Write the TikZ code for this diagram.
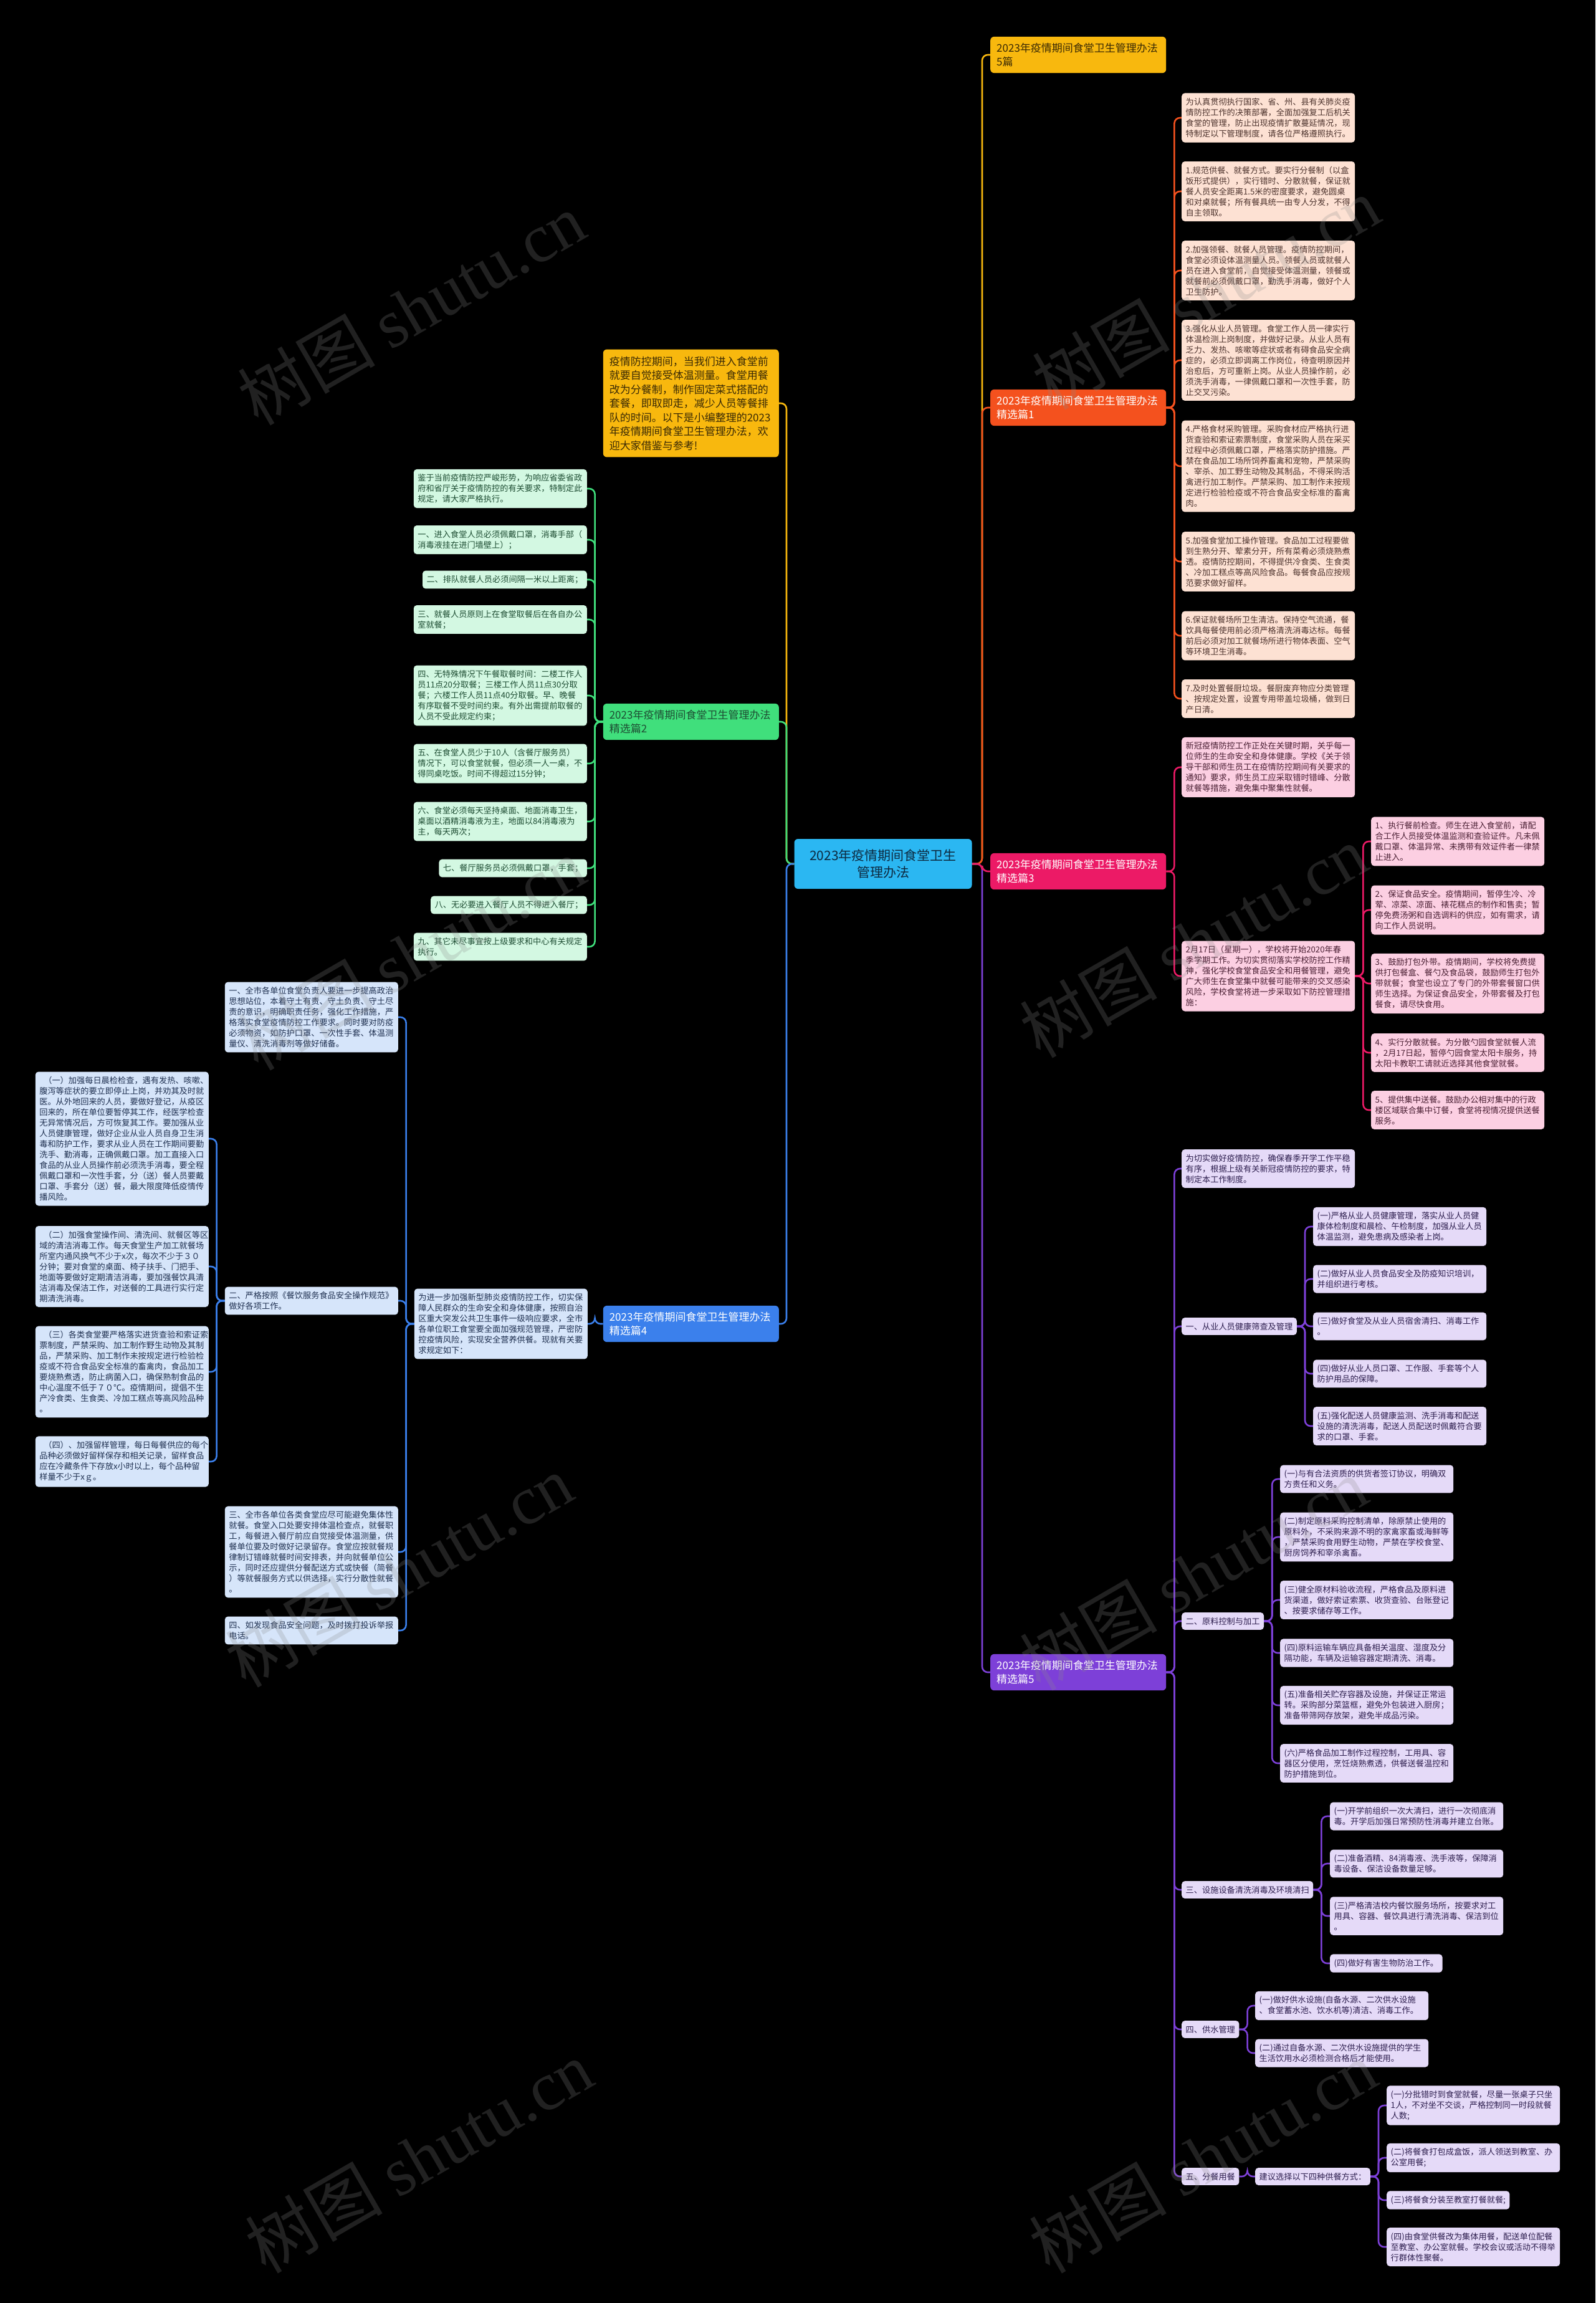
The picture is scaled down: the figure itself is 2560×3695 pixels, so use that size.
\documentclass[tikz,border=0pt]{standalone}
\usepackage{fontspec}
\setmainfont{Noto Sans CJK SC}
\newfontfamily\wmlatin{Liberation Serif}
\usetikzlibrary{calc}
\pgfdeclarelayer{bg}
\pgfsetlayers{bg,main}
\definecolor{cB1}{HTML}{F8B80E}
\definecolor{tB1}{HTML}{3A2A05}
\definecolor{cP1}{HTML}{F4511E}
\definecolor{lP1}{HTML}{FDE1D3}
\definecolor{tP1}{HTML}{4E342E}
\definecolor{cP3}{HTML}{EC1A66}
\definecolor{lP3}{HTML}{FCCFE2}
\definecolor{tP3}{HTML}{4A1F33}
\definecolor{cP5}{HTML}{7D40D8}
\definecolor{lP5}{HTML}{E5DAF8}
\definecolor{tP5}{HTML}{2E1F4F}
\definecolor{cP2}{HTML}{40DF7C}
\definecolor{lP2}{HTML}{D3F8E2}
\definecolor{tP2}{HTML}{1E4D33}
\definecolor{cP4}{HTML}{3B80EC}
\definecolor{lP4}{HTML}{D6E5FA}
\definecolor{tP4}{HTML}{1F3050}
\definecolor{cCtr}{HTML}{2BB7F2}
\definecolor{tCtr}{HTML}{0D2A40}
\definecolor{wmgray}{HTML}{8A8A8A}
\newcommand\lnkR[3]{\draw[myln,#1] (#2.east) -- ++(13,0) |- (#3.west);}
\newcommand\lnkL[3]{\draw[myln,#1] (#2.west) -- ++(-13,0) |- (#3.east);}
\tikzset{
  mylf/.style={rounded corners=5pt, inner xsep=6.5pt, inner ysep=7.8pt, align=left, text width=265pt, font=\fontsize{13.2pt}{17pt}\selectfont},
  mysh/.style={rounded corners=5pt, inner xsep=6.5pt, inner ysep=7.8pt, font=\fontsize{13.2pt}{17pt}\selectfont},
  mybn/.style={rounded corners=6pt, inner xsep=10pt, inner ysep=10pt, align=left, text width=262pt, font=\fontsize{17pt}{22.5pt}\selectfont},
  myf1/.style={fill=lP1, text=tP1},
  myf3/.style={fill=lP3, text=tP3},
  myf5/.style={fill=lP5, text=tP5},
  myf2/.style={fill=lP2, text=tP2},
  myf4/.style={fill=lP4, text=tP4},
  myln/.style={line width=2.6pt, rounded corners=9pt},
  mywm/.style={text=wmgray, opacity=0.24, font=\fontsize{110pt}{110pt}\selectfont, rotate=30, inner sep=0pt},
}
\begin{document}
\begin{tikzpicture}[x=1pt,y=-1pt]
\useasboundingbox (0,0) rectangle (2560,3695);
% ---------------- center
\node[rounded corners=6pt, fill=cCtr, text=tCtr, align=center, minimum width=285pt, minimum height=80pt, font=\fontsize{21pt}{27pt}\selectfont] (ctr) at (1417,1386) {2023年疫情期间食堂卫生\\管理办法};
\coordinate (rtr) at (1576,1386);
\coordinate (ltr) at (1262,1386);
% ---------------- right branch nodes
\node[mybn, fill=cB1, text=tB1, anchor=west] (B1) at (1589,88) {2023年疫情期间食堂卫生管理办法\\5篇};
\node[mybn, fill=cP1, text=white, anchor=west] (P1) at (1589,654) {2023年疫情期间食堂卫生管理办法\\精选篇1};
\node[mybn, fill=cP3, text=white, anchor=west] (P3) at (1589,1398) {2023年疫情期间食堂卫生管理办法\\精选篇3};
\node[mybn, fill=cP5, text=white, anchor=west] (P5) at (1589,2683) {2023年疫情期间食堂卫生管理办法\\精选篇5};
% ---------------- left branch nodes
\node[mybn, fill=cB1, text=tB1, anchor=east, inner ysep=11pt] (intro) at (1250,647) {疫情防控期间，当我们进入食堂前\\就要自觉接受体温测量。食堂用餐\\改为分餐制，制作固定菜式搭配的\\套餐，即取即走，减少人员等餐排\\队的时间。以下是小编整理的2023\\年疫情期间食堂卫生管理办法，欢\\迎大家借鉴与参考!};
\node[mybn, fill=cP2, text=tP2, anchor=east] (P2) at (1250,1158) {2023年疫情期间食堂卫生管理办法\\精选篇2};
\node[mybn, fill=cP4, text=white, anchor=east] (P4) at (1250,2124) {2023年疫情期间食堂卫生管理办法\\精选篇4};
% ---------------- P1 leaves
\node[mylf,myf1,anchor=west] (a1) at (1896,189) {为认真贯彻执行国家、省、州、县有关肺炎疫\\情防控工作的决策部署，全面加强复工后机关\\食堂的管理，防止出现疫情扩散蔓延情况，现\\特制定以下管理制度，请各位严格遵照执行。};
\node[mylf,myf1,anchor=west] (a2) at (1896,307) {1.规范供餐、就餐方式。要实行分餐制（以盒\\饭形式提供），实行错时、分散就餐，保证就\\餐人员安全距离1.5米的密度要求，避免圆桌\\和对桌就餐；所有餐具统一由专人分发，不得\\自主领取。};
\node[mylf,myf1,anchor=west] (a3) at (1896,434) {2.加强领餐、就餐人员管理。疫情防控期间，\\食堂必须设体温测量人员。领餐人员或就餐人\\员在进入食堂前，自觉接受体温测量，领餐或\\就餐前必须佩戴口罩，勤洗手消毒，做好个人\\卫生防护。};
\node[mylf,myf1,anchor=west] (a4) at (1896,578) {3.强化从业人员管理。食堂工作人员一律实行\\体温检测上岗制度，并做好记录。从业人员有\\乏力、发热、咳嗽等症状或者有碍食品安全病\\症的，必须立即调离工作岗位，待查明原因并\\治愈后，方可重新上岗。从业人员操作前，必\\须洗手消毒，一律佩戴口罩和一次性手套，防\\止交叉污染。};
\node[mylf,myf1,anchor=west] (a5) at (1896,748) {4.严格食材采购管理。采购食材应严格执行进\\货查验和索证索票制度，食堂采购人员在采买\\过程中必须佩戴口罩，严格落实防护措施。严\\禁在食品加工场所饲养畜禽和宠物，严禁采购\\、宰杀、加工野生动物及其制品，不得采购活\\禽进行加工制作。严禁采购、加工制作未按规\\定进行检验检疫或不符合食品安全标准的畜禽\\肉。};
\node[mylf,myf1,anchor=west] (a6) at (1896,901) {5.加强食堂加工操作管理。食品加工过程要做\\到生熟分开、荤素分开，所有菜肴必须烧熟煮\\透。疫情防控期间，不得提供冷食类、生食类\\、冷加工糕点等高风险食品。每餐食品应按规\\范要求做好留样。};
\node[mylf,myf1,anchor=west] (a7) at (1896,1020) {6.保证就餐场所卫生清洁。保持空气流通，餐\\饮具每餐使用前必须严格清洗消毒达标。每餐\\前后必须对加工就餐场所进行物体表面、空气\\等环境卫生消毒。};
\node[mylf,myf1,anchor=west] (a8) at (1896,1121) {7.及时处置餐厨垃圾。餐厨废弃物应分类管理\\、按规定处置，设置专用带盖垃圾桶，做到日\\产日清。};
% ---------------- P3 leaves
\node[mylf,myf3,anchor=west] (c1) at (1896,1231) {新冠疫情防控工作正处在关键时期，关乎每一\\位师生的生命安全和身体健康。学校《关于领\\导干部和师生员工在疫情防控期间有关要求的\\通知》要求，师生员工应采取错时错峰、分散\\就餐等措施，避免集中聚集性就餐。};
\node[mylf,myf3,anchor=west] (c2) at (1896,1566) {2月17日（星期一），学校将开始2020年春\\季学期工作。为切实贯彻落实学校防控工作精\\神，强化学校食堂食品安全和用餐管理，避免\\广大师生在食堂集中就餐可能带来的交叉感染\\风险，学校食堂将进一步采取如下防控管理措\\施：};
\node[mylf,myf3,anchor=west] (c21) at (2200,1350) {1、执行餐前检查。师生在进入食堂前，请配\\合工作人员接受体温监测和查验证件。凡未佩\\戴口罩、体温异常、未携带有效证件者一律禁\\止进入。};
\node[mylf,myf3,anchor=west] (c22) at (2200,1460) {2、保证食品安全。疫情期间，暂停生冷、冷\\荤、凉菜、凉面、裱花糕点的制作和售卖；暂\\停免费汤粥和自选调料的供应，如有需求，请\\向工作人员说明。};
\node[mylf,myf3,anchor=west] (c23) at (2200,1578) {3、鼓励打包外带。疫情期间，学校将免费提\\供打包餐盒、餐勺及食品袋，鼓励师生打包外\\带就餐；食堂也设立了专门的外带套餐窗口供\\师生选择。为保证食品安全，外带套餐及打包\\餐食，请尽快食用。};
\node[mylf,myf3,anchor=west] (c24) at (2200,1689) {4、实行分散就餐。为分散勺园食堂就餐人流\\，2月17日起，暂停勺园食堂太阳卡服务，持\\太阳卡教职工请就近选择其他食堂就餐。};
\node[mylf,myf3,anchor=west] (c25) at (2200,1781) {5、提供集中送餐。鼓励办公相对集中的行政\\楼区域联合集中订餐，食堂将视情况提供送餐\\服务。};
% ---------------- P5 leaves
\node[mylf,myf5,anchor=west] (e0) at (1896,1875) {为切实做好疫情防控，确保春季开学工作平稳\\有序，根据上级有关新冠疫情防控的要求，特\\制定本工作制度。};
\node[mysh,myf5,anchor=west] (e1) at (1896,2128) {一、从业人员健康筛查及管理};
\node[mylf,myf5,anchor=west] (e11) at (2107,1968) {(一)严格从业人员健康管理，落实从业人员健\\康体检制度和晨检、午检制度，加强从业人员\\体温监测，避免患病及感染者上岗。};
\node[mylf,myf5,anchor=west] (e12) at (2107,2052) {(二)做好从业人员食品安全及防疫知识培训，\\并组织进行考核。};
\node[mylf,myf5,anchor=west] (e13) at (2107,2128) {(三)做好食堂及从业人员宿舍清扫、消毒工作\\。};
\node[mylf,myf5,anchor=west] (e14) at (2107,2204) {(四)做好从业人员口罩、工作服、手套等个人\\防护用品的保障。};
\node[mylf,myf5,anchor=west] (e15) at (2107,2288) {(五)强化配送人员健康监测、洗手消毒和配送\\设施的清洗消毒，配送人员配送时佩戴符合要\\求的口罩、手套。};
\node[mysh,myf5,anchor=west] (e2) at (1896,2601) {二、原料控制与加工};
\node[mylf,myf5,anchor=west] (e21) at (2054,2373) {(一)与有合法资质的供货者签订协议，明确双\\方责任和义务。};
\node[mylf,myf5,anchor=west] (e22) at (2054,2466) {(二)制定原料采购控制清单，除原禁止使用的\\原料外，不采购来源不明的家禽家畜或海鲜等\\，严禁采购食用野生动物，严禁在学校食堂、\\厨房饲养和宰杀禽畜。};
\node[mylf,myf5,anchor=west] (e23) at (2054,2567) {(三)健全原材料验收流程，严格食品及原料进\\货渠道，做好索证索票、收货查验、台账登记\\、按要求储存等工作。};
\node[mylf,myf5,anchor=west] (e24) at (2054,2652) {(四)原料运输车辆应具备相关温度、湿度及分\\隔功能，车辆及运输容器定期清洗、消毒。};
\node[mylf,myf5,anchor=west] (e25) at (2054,2736) {(五)准备相关贮存容器及设施，并保证正常运\\转。采购部分菜篮框，避免外包装进入厨房；\\准备带筛网存放架，避免半成品污染。};
\node[mylf,myf5,anchor=west] (e26) at (2054,2829) {(六)严格食品加工制作过程控制，工用具、容\\器区分使用，烹饪烧熟煮透，供餐送餐温控和\\防护措施到位。};
\node[mysh,myf5,anchor=west] (e3) at (1896,3032) {三、设施设备清洗消毒及环境清扫};
\node[mylf,myf5,anchor=west] (e31) at (2134,2914) {(一)开学前组织一次大清扫，进行一次彻底消\\毒。开学后加强日常预防性消毒并建立台账。};
\node[mylf,myf5,anchor=west] (e32) at (2134,2990) {(二)准备酒精、84消毒液、洗手液等，保障消\\毒设备、保洁设备数量足够。};
\node[mylf,myf5,anchor=west] (e33) at (2134,3074) {(三)严格清洁校内餐饮服务场所，按要求对工\\用具、容器、餐饮具进行清洗消毒、保洁到位\\。};
\node[mysh,myf5,anchor=west] (e34) at (2134,3150) {(四)做好有害生物防治工作。};
\node[mysh,myf5,anchor=west] (e4) at (1896,3256) {四、供水管理};
\node[mylf,myf5,anchor=west] (e41) at (2014,3218) {(一)做好供水设施(自备水源、二次供水设施\\、食堂蓄水池、饮水机等)清洁、消毒工作。};
\node[mylf,myf5,anchor=west] (e42) at (2014,3294) {(二)通过自备水源、二次供水设施提供的学生\\生活饮用水必须检测合格后才能使用。};
\node[mysh,myf5,anchor=west] (e5) at (1896,3492) {五、分餐用餐};
\node[mysh,myf5,anchor=west] (e50) at (2014,3492) {建议选择以下四种供餐方式：};
\node[mylf,myf5,anchor=west] (e51) at (2225,3378) {(一)分批错时到食堂就餐，尽量一张桌子只坐\\1人，不对坐不交谈，严格控制同一时段就餐\\人数;};
\node[mylf,myf5,anchor=west] (e52) at (2225,3462) {(二)将餐食打包成盒饭，派人领送到教室、办\\公室用餐;};
\node[mysh,myf5,anchor=west] (e53) at (2225,3530) {(三)将餐食分装至教室打餐就餐;};
\node[mylf,myf5,anchor=west] (e54) at (2225,3605) {(四)由食堂供餐改为集体用餐，配送单位配餐\\至教室、办公室就餐。学校会议或活动不得举\\行群体性聚餐。};
% ---------------- P2 leaves
\node[mylf,myf2,anchor=east] (b1) at (942,784) {鉴于当前疫情防控严峻形势，为响应省委省政\\府和省厅关于疫情防控的有关要求，特制定此\\规定，请大家严格执行。};
\node[mylf,myf2,anchor=east] (b2) at (942,866) {一、进入食堂人员必须佩戴口罩，消毒手部（\\消毒液挂在进门墙壁上）；};
\node[mysh,myf2,anchor=east] (b3) at (942,930) {二、排队就餐人员必须间隔一米以上距离；};
\node[mylf,myf2,anchor=east] (b4) at (942,994) {三、就餐人员原则上在食堂取餐后在各自办公\\室就餐；};
\node[mylf,myf2,anchor=east] (b5) at (942,1116) {四、无特殊情况下午餐取餐时间：二楼工作人\\员11点20分取餐；三楼工作人员11点30分取\\餐；六楼工作人员11点40分取餐。早、晚餐\\有序取餐不受时间约束。有外出需提前取餐的\\人员不受此规定约束；};
\node[mylf,myf2,anchor=east] (b6) at (942,1225) {五、在食堂人员少于10人（含餐厅服务员）\\情况下，可以食堂就餐，但必须一人一桌，不\\得同桌吃饭。时间不得超过15分钟；};
\node[mylf,myf2,anchor=east] (b7) at (942,1318) {六、食堂必须每天坚持桌面、地面消毒卫生，\\桌面以酒精消毒液为主，地面以84消毒液为\\主，每天两次；};
\node[mysh,myf2,anchor=east] (b8) at (942,1393) {七、餐厅服务员必须佩戴口罩，手套；};
\node[mysh,myf2,anchor=east] (b9) at (942,1452) {八、无必要进入餐厅人员不得进入餐厅；};
\node[mylf,myf2,anchor=east] (b10) at (942,1519) {九、其它未尽事宜按上级要求和中心有关规定\\执行。};
% ---------------- P4 leaves
\node[mylf,myf4,anchor=east] (d0) at (943,2124) {为进一步加强新型肺炎疫情防控工作，切实保\\障人民群众的生命安全和身体健康，按照自治\\区重大突发公共卫生事件一级响应要求，全市\\各单位职工食堂要全面加强规范管理，严密防\\控疫情风险，实现安全营养供餐。现就有关要\\求规定如下：};
\node[mylf,myf4,anchor=east] (d1) at (639,1632) {一、全市各单位食堂负责人要进一步提高政治\\思想站位，本着守土有责、守土负责、守土尽\\责的意识，明确职责任务，强化工作措施，严\\格落实食堂疫情防控工作要求。同时要对防疫\\必须物资，如防护口罩、一次性手套、体温测\\量仪、清洗消毒剂等做好储备。};
\node[mylf,myf4,anchor=east] (d2) at (639,2087) {二、严格按照《餐饮服务食品安全操作规范》\\做好各项工作。};
\node[mylf,myf4,anchor=east] (d3) at (639,2490) {三、全市各单位各类食堂应尽可能避免集体性\\就餐。食堂入口处要安排体温检查点，就餐职\\工，每餐进入餐厅前应自觉接受体温测量，供\\餐单位要及时做好记录留存。食堂应按就餐规\\律制订错峰就餐时间安排表，并向就餐单位公\\示，同时还应提供分餐配送方式或快餐（简餐\\）等就餐服务方式以供选择，实行分散性就餐\\。};
\node[mylf,myf4,anchor=east] (d4) at (639,2616) {四、如发现食品安全问题，及时拨打投诉举报\\电话。};
\node[mylf,myf4,anchor=east] (d21) at (335,1827) {\hspace*{7pt}（一）加强每日晨检检查，遇有发热、咳嗽、\\腹泻等症状的要立即停止上岗，并劝其及时就\\医。从外地回来的人员，要做好登记，从疫区\\回来的，所在单位要暂停其工作，经医学检查\\无异常情况后，方可恢复其工作。要加强从业\\人员健康管理，做好企业从业人员自身卫生消\\毒和防护工作，要求从业人员在工作期间要勤\\洗手、勤消毒，正确佩戴口罩。加工直接入口\\食品的从业人员操作前必须洗手消毒，要全程\\佩戴口罩和一次性手套，分（送）餐人员要戴\\口罩、手套分（送）餐，最大限度降低疫情传\\播风险。};
\node[mylf,myf4,anchor=east] (d22) at (335,2032) {\hspace*{7pt}（二）加强食堂操作间、清洗间、就餐区等区\\域的清洁消毒工作。每天食堂生产加工就餐场\\所室内通风换气不少于x次，每次不少于３０\\分钟；要对食堂的桌面、椅子扶手、门把手、\\地面等要做好定期清洁消毒，要加强餐饮具清\\洁消毒及保洁工作，对送餐的工具进行实行定\\期清洗消毒。};
\node[mylf,myf4,anchor=east] (d23) at (335,2201) {\hspace*{7pt}（三）各类食堂要严格落实进货查验和索证索\\票制度，严禁采购、加工制作野生动物及其制\\品，严禁采购、加工制作未按规定进行检验检\\疫或不符合食品安全标准的畜禽肉，食品加工\\要烧熟煮透，防止病菌入口，确保熟制食品的\\中心温度不低于７０℃。疫情期间，提倡不生\\产冷食类、生食类、冷加工糕点等高风险品种\\。};
\node[mylf,myf4,anchor=east] (d24) at (335,2345) {\hspace*{7pt}（四）、加强留样管理，每日每餐供应的每个\\品种必须做好留样保存和相关记录，留样食品\\应在冷藏条件下存放x小时以上，每个品种留\\样量不少于xｇ。};
% ---------------- connectors
\begin{pgfonlayer}{bg}
\fill[black] (0,0) rectangle (2560,3695);
\draw[myln,cB1] (ctr.east) -- (rtr) |- (B1.west);
\draw[myln,cP1] (ctr.east) -- (rtr) |- (P1.west);
\draw[myln,cP5] (ctr.east) -- (rtr) |- (P5.west);
\draw[myln,cP3] (ctr.east) -- (rtr) |- (P3.west);
\draw[myln,cB1] (ctr.west) -- (ltr) |- (intro.east);
\draw[myln,cP2] (ctr.west) -- (ltr) |- (P2.east);
\draw[myln,cP4] (ctr.west) -- (ltr) |- (P4.east);
\foreach \c in {a1,a2,a3,a4,a5,a6,a7,a8} {\lnkR{cP1}{P1}{\c}}
\foreach \c in {c1,c2} {\lnkR{cP3}{P3}{\c}}
\foreach \c in {c21,c22,c23,c24,c25} {\lnkR{cP3}{c2}{\c}}
\foreach \c in {e0,e1,e2,e3,e4,e5} {\lnkR{cP5}{P5}{\c}}
\foreach \c in {e11,e12,e13,e14,e15} {\lnkR{cP5}{e1}{\c}}
\foreach \c in {e21,e22,e23,e24,e25,e26} {\lnkR{cP5}{e2}{\c}}
\foreach \c in {e31,e32,e33,e34} {\lnkR{cP5}{e3}{\c}}
\foreach \c in {e41,e42} {\lnkR{cP5}{e4}{\c}}
\lnkR{cP5}{e5}{e50}
\foreach \c in {e51,e52,e53,e54} {\lnkR{cP5}{e50}{\c}}
\foreach \c in {b1,b2,b3,b4,b5,b6,b7,b8,b9,b10} {\lnkL{cP2}{P2}{\c}}
\lnkL{cP4}{P4}{d0}
\foreach \c in {d1,d2,d3,d4} {\lnkL{cP4}{d0}{\c}}
\foreach \c in {d21,d22,d23,d24} {\lnkL{cP4}{d2}{\c}}
\end{pgfonlayer}
% ---------------- watermark
\node[mywm] (w1) at (660,495) {树图 {\wmlatin shutu.cn}};
\node[mywm] (w2) at (1935,470) {树图 {\wmlatin shutu.cn}};
\node[mywm] (w3) at (660,1530) {树图 {\wmlatin shutu.cn}};
\node[mywm] (w4) at (1915,1510) {树图 {\wmlatin shutu.cn}};
\node[mywm] (w5) at (640,2520) {树图 {\wmlatin shutu.cn}};
\node[mywm] (w6) at (1915,2525) {树图 {\wmlatin shutu.cn}};
\node[mywm] (w7) at (672,3460) {树图 {\wmlatin shutu.cn}};
\node[mywm] (w8) at (1930,3460) {树图 {\wmlatin shutu.cn}};
\end{tikzpicture}
\end{document}
